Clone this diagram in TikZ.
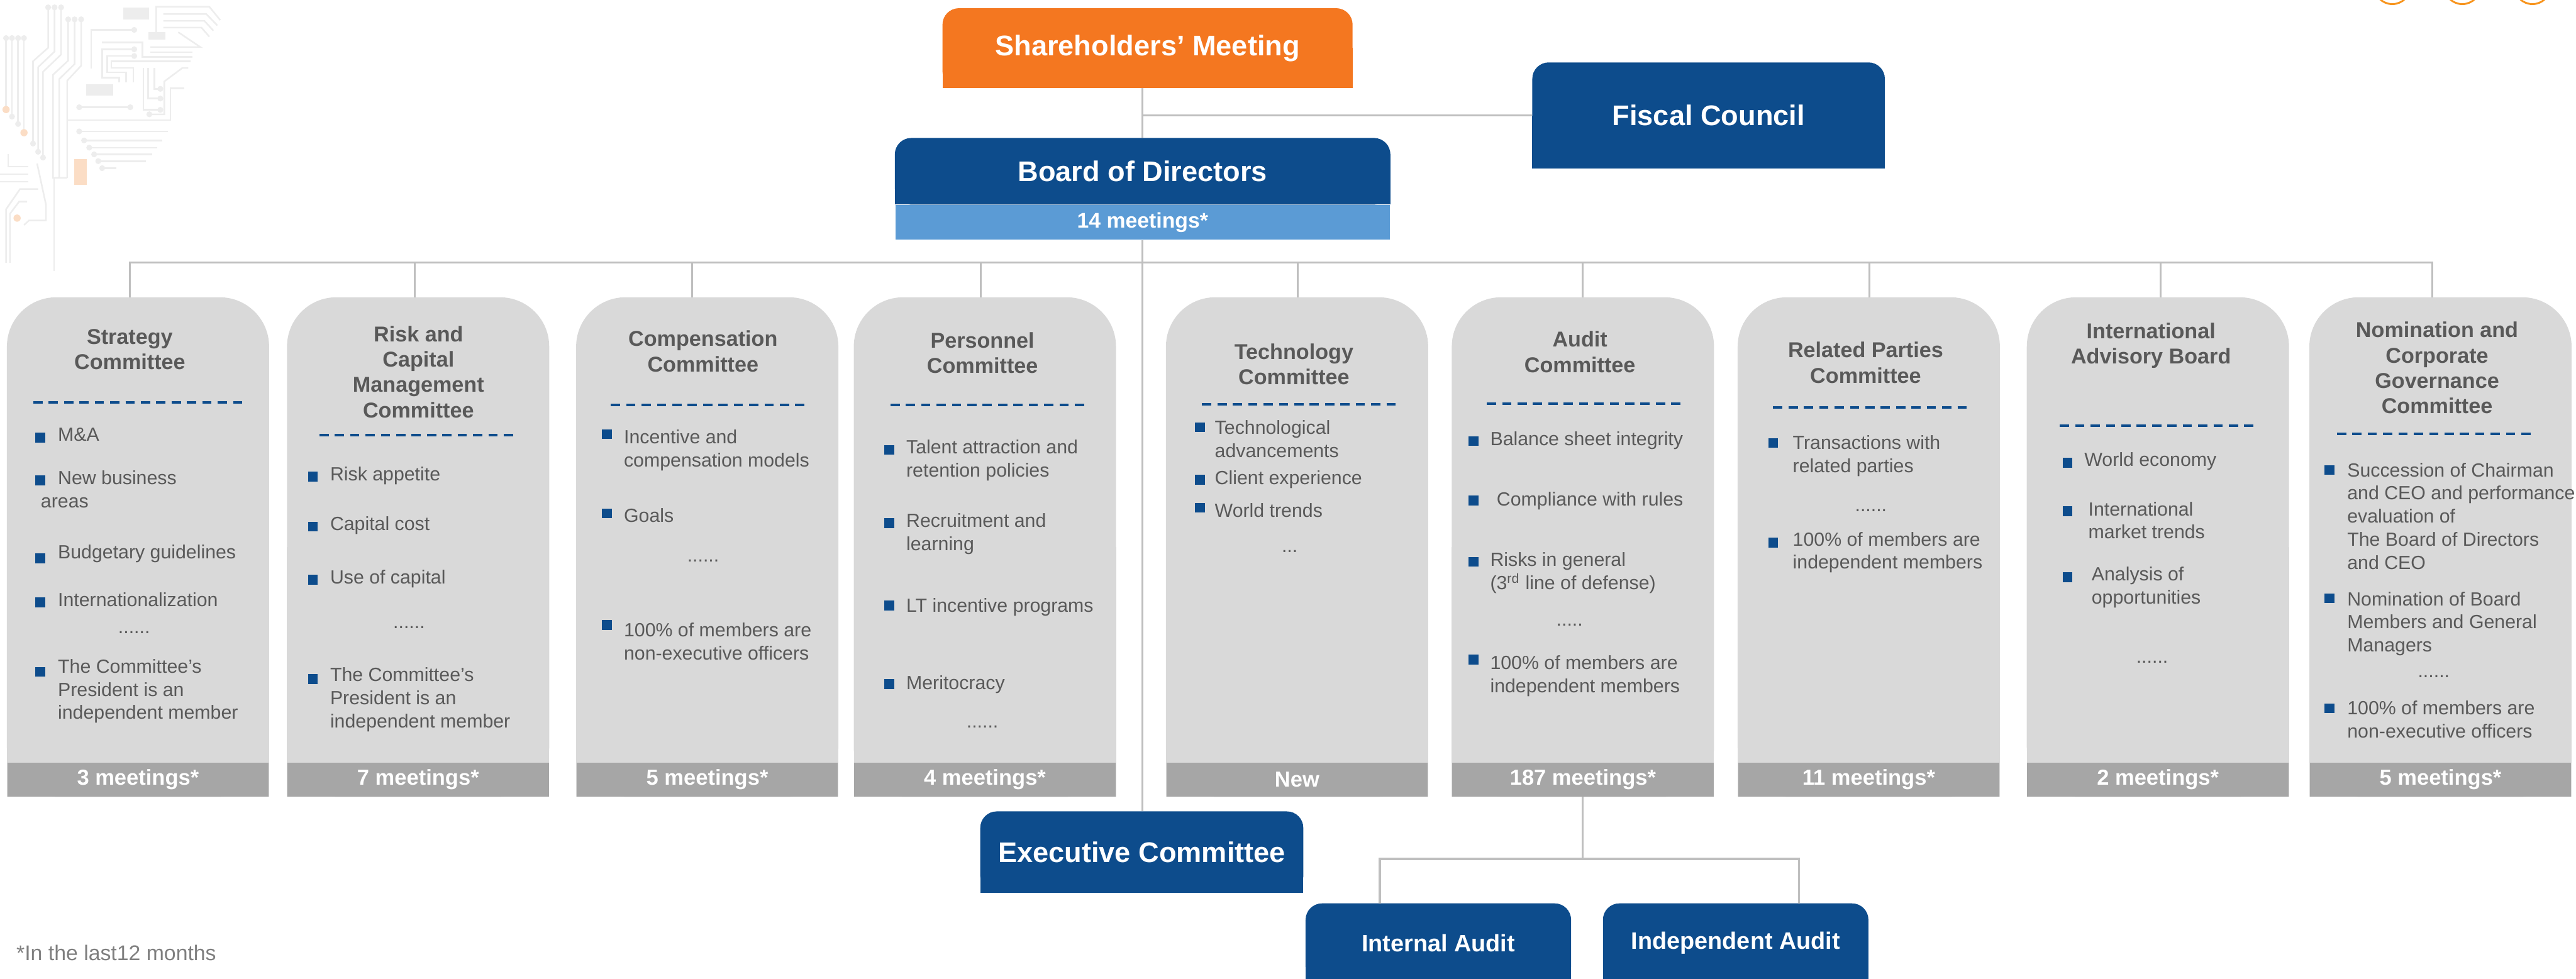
\documentclass[tikz,border=0pt]{standalone}
\usepackage{fontspec}
\setmainfont{Liberation Sans}
\usetikzlibrary{backgrounds}

\definecolor{navy}{RGB}{13,76,140}
\definecolor{orangeM}{RGB}{244,119,32}
\definecolor{skyblue}{RGB}{91,155,213}
\definecolor{cardgray}{RGB}{217,217,217}
\definecolor{stripgray}{RGB}{166,166,166}
\definecolor{txtgray}{RGB}{89,89,89}
\definecolor{linegray}{RGB}{191,191,191}
\definecolor{notegray}{RGB}{127,127,127}
\definecolor{tracegray}{RGB}{237,237,237}
\definecolor{tracepeach}{RGB}{251,221,197}
\definecolor{ringorange}{RGB}{247,148,29}

\begin{document}
\begin{tikzpicture}[x=0.025cm, y=-0.025cm,
  tab/.style={anchor=north, inner sep=0pt, text=white, font=\fontsize{12.3}{14}\selectfont\bfseries},
  card/.style={anchor=north, minimum width=3.975cm, minimum height=7.5875cm, inner sep=0pt},
  meet/.style={anchor=south, fill=stripgray, minimum width=3.975cm, minimum height=0.5125cm, inner sep=0pt, text=white, font=\fontsize{9.4}{11}\selectfont\bfseries},
  ctitle/.style={align=center, inner sep=0pt, text=txtgray, font=\fontsize{9.3}{11}\selectfont\bfseries},
  item/.style={anchor=west, align=left, inner sep=0pt, text=txtgray, font=\fontsize{8.25}{10}\selectfont},
  bul/.style={fill=navy, minimum size=0.15cm, inner sep=0pt},
  dots/.style={inner sep=0pt, text=txtgray, font=\fontsize{8.25}{10}\selectfont},
  sep/.style={navy, line width=1.1pt, dash pattern=on 4pt off 2.65pt},
  link/.style={draw=linegray, line width=0.8pt},
  heavy/.style={line width=1pt},
  trace/.style={draw=tracegray, line width=0.7pt}
]
\useasboundingbox (0,0) rectangle (1568,596);

% ----- Top of the structure -----
\node[tab, minimum width=6.225cm, minimum height=1.2cm] (share) at (698.5,5) {Shareholders’ Meeting};
\node[tab, minimum width=5.35cm, minimum height=1.6cm] (fiscal) at (1040,38) {Fiscal Council};
\node[tab, minimum width=7.525cm, minimum height=1cm] (board) at (695.5,84) {Board of Directors};
\node[tab, fill=skyblue, minimum width=7.525cm, minimum height=0.525cm,
      font=\fontsize{9.2}{11}\selectfont\bfseries] (boardmeet) at (board.south) {14 meetings*};

% ----- Below the committees -----
\node[tab, minimum width=4.9cm, minimum height=1.225cm] (exec) at (695,494) {Executive Committee};
\node[tab, minimum width=4.025cm, minimum height=1.2cm, font=\fontsize{10.3}{12}\selectfont\bfseries] (intaudit) at (875.5,550) {Internal Audit};
\node[tab, minimum width=4.025cm, minimum height=1.2cm, font=\fontsize{10.3}{12}\selectfont\bfseries] (indaudit) at (1056.5,550) {Independent Audit};

% ----- Committee cards -----
\foreach \n/\x in {strat/84, risk/254.5, comp/430.5, pers/599.5, tech/789.5, audit/963.5, relpart/1137.5, intl/1313.5, nomin/1485.5}
  \node[card] (\n) at (\x,181) {};

\foreach \n/\txt in {strat/3 meetings*, risk/7 meetings*, comp/5 meetings*, pers/4 meetings*, tech/New,
                     audit/187 meetings*, relpart/11 meetings*, intl/2 meetings*, nomin/5 meetings*}
  \node[meet] (\n-m) at (\n.south) {\txt};

\begin{scope}[on background layer]
  % circuit traces in the corner
  \draw[trace] (29.3,4.5) -- (29.3,29.1) -- (20.1,37.3) -- (20.1,87.4);
  \draw[trace] (33.2,4.5) -- (33.2,31.4) -- (23.2,40.9) -- (23.2,92.4);
  \draw[trace] (37.2,4.5) -- (37.2,33.2) -- (26.2,43.7) -- (26.2,96);
  \draw[trace] (41.5,11.8) -- (41.5,36.9) -- (32.3,45.5) -- (32.3,108.3) -- (40.9,108.3);
  \draw[trace] (45.4,11.8) -- (45.4,39) -- (36,48.2) -- (36,108.3);
  \draw[trace] (49.4,11.8) -- (49.4,40) -- (40.9,49.1) -- (40.9,108.3);
  \draw[trace] (33,108.3) -- (33,165);
  \foreach \x/\y in {3.7/66.7, 7.3/71, 11/75.5, 14.6/80.8}
    \draw[trace] (\x,23.2) -- (\x,\y);
  \draw[trace] (40.9,73.2) -- (103.7,73.2) -- (103.7,53.7) -- (112,53.7);
  \foreach \x/\y/\e in {48.2/80/102.4, 51.2/85.5/98.8, 54.3/89.9/95.7, 57.3/94/92.7, 59.8/98.1/88.8, 62.2/102.4/70.7}
    \draw[trace] (\x,\y) -- (\e,\y);
  \draw[trace] (95.1,19.6) -- (95.1,4.1) -- (127.4,4.1) -- (134.1,12.3);
  \draw[trace] (99.4,8.6) -- (125.6,8.6) -- (132.3,15.5);
  \draw[trace] (99.4,12.7) -- (124.4,12.7) -- (129.9,18.7);
  \draw[trace] (99.4,16.8) -- (122.6,16.8) -- (127.4,22.3);
  \draw[trace] (91.5,28.7) -- (122,28.7) -- (108.5,19.6);
  \draw[trace] (91.5,31.8) -- (117,31.8);
  \draw[trace] (55.5,41.9) -- (55.5,18.2) -- (81.7,18.2);
  \draw[trace] (62.2,25.9) -- (86.6,25.9) -- (86.6,34.6) -- (117,34.6);
  \draw[trace] (81.7,30) -- (62.2,30) -- (62.2,47.3) -- (72.6,47.3) -- (72.6,50);
  \draw[trace] (81.7,34.1) -- (65.2,34.1) -- (65.2,44.1) -- (76.8,44.1) -- (76.8,50);
  \draw[trace] (115.9,37.3) -- (67.7,37.3) -- (67.7,41.4) -- (81.1,41.4) -- (81.1,50);
  \draw[trace] (48.2,65.3) -- (79.3,65.3);
  \draw[trace] (87.2,41.4) -- (87.2,66.9) -- (97.6,66.9);
  \draw[trace] (90.2,41.4) -- (90.2,60) -- (97.6,60);
  \draw[trace] (93.9,41.4) -- (93.9,54.1) -- (97.6,54.1);
  \draw[trace] (90.9,69.6) -- (100,69.6) -- (100,49.6) -- (111,41.4) -- (114.6,41.4);
  \draw[trace] (0,106) -- (17.1,106);
  \draw[trace] (4.9,93.7) -- (4.9,101.5) -- (17.1,101.5);
  \draw[trace] (0,110.6) -- (17.1,110.6);
  \draw[trace] (22.6,99.6) -- (28,124.7) -- (28,134.2) -- (17.7,134.2) -- (14.6,137);
  \draw[trace] (23.2,115.1) -- (12.2,115.1) -- (3.7,127.4) -- (3.7,160);
  \draw[trace] (16.5,122.8) -- (11.6,122.8) -- (6.1,130.1) -- (6.1,160);
  \fill[tracegray] (75,4.5) rectangle (90.9,11.8);
  \fill[tracegray] (90.2,19.6) rectangle (100.6,24.1);
  \fill[tracegray] (52.4,51.4) rectangle (68.9,58.2);
  \fill[tracepeach] (45.1,96.9) rectangle (53,112.4);
  \foreach \x/\y in {29.3/4.5, 33.2/4.5, 37.2/4.5, 41.5/11.8, 45.4/11.8, 49.4/11.8, 3.7/23.2, 7.3/23.2, 11/23.2, 14.6/23.2,
                     7.3/71, 11/75.5, 20.1/87.4, 23.2/92.4, 26.2/96, 48.2/80, 51.2/85.5, 54.3/89.9, 57.3/94, 59.8/98.1,
                     62.2/102.4, 81.7/18.2, 81.7/30, 81.7/34.1, 97.6/66.9, 97.6/60, 97.6/54.1, 90.9/69.6, 48.2/65.3, 79.3/65.3}
    \fill[tracegray] (\x,\y) circle[radius=0.045cm];
  \foreach \x/\y in {3.7/66.7, 14.6/80.8, 10.4/132.8}
    \fill[tracepeach] (\x,\y) circle[radius=0.055cm];

  % boxes with a rounded top and a square bottom
  \foreach \n/\c in {share/orangeM, fiscal/navy, board/navy, exec/navy, intaudit/navy, indaudit/navy}{
    \fill[\c, rounded corners=0.25cm] (\n.south west) rectangle (\n.north east);
    \fill[\c] (\n.south west) rectangle (\n.east);
  }
  \foreach \n in {strat, risk, comp, pers, tech, audit, relpart, intl, nomin}{
    \fill[cardgray, rounded corners=0.75cm] (\n.south west) rectangle (\n.north east);
    \fill[cardgray] (\n.south west) rectangle (\n.east);
  }
\end{scope}

% rings at the top edge
\begin{scope}
  \clip (0,0) rectangle (1568,596);
  \foreach \x in {1456.2, 1498.8, 1541.5}
    \draw[ringorange, line width=0.8pt] (\x,-8.5) circle[radius=0.275cm];
\end{scope}

% ----- Strategy -----
\node[ctitle] (strat-t) at (79,212.8) {Strategy\\Committee};
\draw[sep] (20.3,245) -- (151,245);
\foreach \by/\ty/\txt [count=\i] in {266.5/264.7/{M\&A}, 292.6/298/{New business\\\hspace*{-0.26cm}areas},
    340/337.3/{Budgetary guidelines}, 366.7/364.9/{Internationalization},
    409/420.8/{The Committee’s\\President is an\\independent member}}{
  \node[bul] (strat-b\i) at (24.5,\by) {};
  \node[item] (strat-i\i) at (35,\ty) {\txt};
}
\node[dots] (strat-d) at (81.6,385) {......};

% ----- Risk and Capital -----
\node[ctitle] (risk-t) at (254.7,226.4) {Risk and\\Capital\\Management\\Committee};
\draw[sep] (194.4,265) -- (315,265);
\foreach \by/\ty/\txt [count=\i] in {290.2/289.8/{Risk appetite}, 320.6/320/{Capital cost}, 353/352.4/{Use of capital},
    413.4/425.9/{The Committee’s\\President is an\\independent member}}{
  \node[bul] (risk-b\i) at (190.5,\by) {};
  \node[item] (risk-i\i) at (200.7,\ty) {\txt};
}
\node[dots] (risk-d) at (249,382) {......};

% ----- Compensation -----
\node[ctitle] (comp-t) at (427.9,213.9) {Compensation\\Committee};
\draw[sep] (371.8,246.5) -- (492.6,246.5);
\foreach \by/\ty/\txt [count=\i] in {264.3/274.3/{Incentive and\\compensation models}, 312.6/313.8/{Goals},
    380.6/390.4/{100\% of members are\\non-executive officers}}{
  \node[bul] (comp-b\i) at (369.3,\by) {};
  \node[item] (comp-i\i) at (379.5,\ty) {\txt};
}
\node[dots] (comp-d) at (428,341.5) {......};

% ----- Personnel -----
\node[ctitle] (pers-t) at (598,214.9) {Personnel\\Committee};
\draw[sep] (542,246.5) -- (663,246.5);
\foreach \by/\ty/\txt [count=\i] in {273.9/280.4/{Talent attraction and\\retention policies},
    318.4/325.1/{Recruitment and\\learning}, 368.7/369.7/{LT incentive programs}, 416.4/416.9/{Meritocracy}}{
  \node[bul] (pers-b\i) at (541.3,\by) {};
  \node[item] (pers-i\i) at (551.4,\ty) {\txt};
}
\node[dots] (pers-d) at (598,442.5) {......};

% ----- Technology -----
\node[ctitle] (tech-t) at (787.6,221.8) {Technology\\Committee};
\draw[sep] (731.7,246.2) -- (852.4,246.2);
\foreach \by/\ty/\txt [count=\i] in {260.1/267.3/{Technological\\advancements}, 292/292.1/{Client experience},
    309.1/310.6/{World trends}}{
  \node[bul] (tech-b\i) at (730.5,\by) {};
  \node[item] (tech-i\i) at (739.2,\ty) {\txt};
}
\node[dots] (tech-d) at (785,335.8) {...};

% ----- Audit -----
\node[ctitle] (audit-t) at (961.7,214.3) {Audit\\Committee};
\draw[sep] (905,245.6) -- (1025.6,245.6);
\foreach \by/\ty/\txt [count=\i] in {268.6/268.4/{Balance sheet integrity}, 304.8/305/{\hspace*{0.1cm}Compliance with rules},
    342/348.9/{Risks in general\\(3\textsuperscript{rd} line of defense)},
    401.6/411.7/{100\% of members are\\independent members}}{
  \node[bul] (audit-b\i) at (897,\by) {};
  \node[item] (audit-i\i) at (906.8,\ty) {\txt};
}
\node[dots] (audit-d) at (955.4,380.5) {.....};

% ----- Related Parties -----
\node[ctitle] (relpart-t) at (1135.6,220.8) {Related Parties\\Committee};
\draw[sep] (1079.3,248) -- (1200.8,248);
\foreach \by/\ty/\txt [count=\i] in {269.7/277.6/{Transactions with\\related parties},
    330.4/336.4/{100\% of members are\\independent members}}{
  \node[bul] (relpart-b\i) at (1079.3,\by) {};
  \node[item] (relpart-i\i) at (1091,\ty) {\txt};
}
\node[dots] (relpart-d) at (1138.8,310.7) {......};

% ----- International Advisory Board -----
\node[ctitle] (intl-t) at (1309.3,210.4) {International\\Advisory Board};
\draw[sep] (1253.8,259.3) -- (1374.8,259.3);
\foreach \by/\ty/\txt [count=\i] in {281.8/280.8/{World economy},
    311.3/316.8/{\hspace*{0.06cm}International\\\hspace*{0.06cm}market trends},
    351.5/357.5/{\hspace*{0.11cm}Analysis of\\\hspace*{0.11cm}opportunities}}{
  \node[bul] (intl-b\i) at (1258.5,\by) {};
  \node[item] (intl-i\i) at (1268.5,\ty) {\txt};
}
\node[dots] (intl-d) at (1310,403.2) {......};

% ----- Nomination and Corporate Governance -----
\node[ctitle] (nomin-t) at (1483.4,224) {Nomination and\\Corporate\\Governance\\Committee};
\draw[sep] (1422.5,264.3) -- (1543.6,264.3);
\foreach \by/\ty/\txt [count=\i] in {286.2/314.2/{Succession of Chairman\\and CEO and performance\\evaluation of\\The Board of Directors\\and CEO},
    364.2/379.8/{Nomination of Board\\Members and General\\Managers},
    431.3/438/{100\% of members are\\non-executive officers}}{
  \node[bul] (nomin-b\i) at (1418,\by) {};
  \node[item] (nomin-i\i) at (1428.5,\ty) {\txt};
}
\node[dots] (nomin-d) at (1481.4,411.8) {......};

% ----- Connectors -----
\draw[link] (share.south -| board.north) -- (board.north);
\draw[link, heavy] (board.north |- fiscal.west) -- (fiscal.west);
\draw[link] (boardmeet.south) -- (boardmeet.south |- exec.north);

\coordinate (bus) at (695.5,160);
\draw[link] ([xshift=-0.125cm]strat.north) |- (bus) -| ([xshift=-0.1275cm]nomin.north);
\foreach \n/\dx in {risk/-2, comp/-9.3, pers/-2.5, tech/0.5, audit/0, relpart/0.4, intl/1.8}
  \draw[link] (\n.north) ++(\dx,0) -- ++(0,-21);

\coordinate (split) at (963.5,523);
\draw[link] (audit-m.south) -- (audit-m.south |- split);
\draw[link, heavy] ([xshift=-0.8875cm]intaudit.north) |- (split) -| ([xshift=0.9625cm]indaudit.north);

% footnote
\node[anchor=west, inner sep=0pt, text=notegray, font=\fontsize{9.2}{11}\selectfont] (note) at (9.75,580) {*In the last12 months};

\end{tikzpicture}
\end{document}
